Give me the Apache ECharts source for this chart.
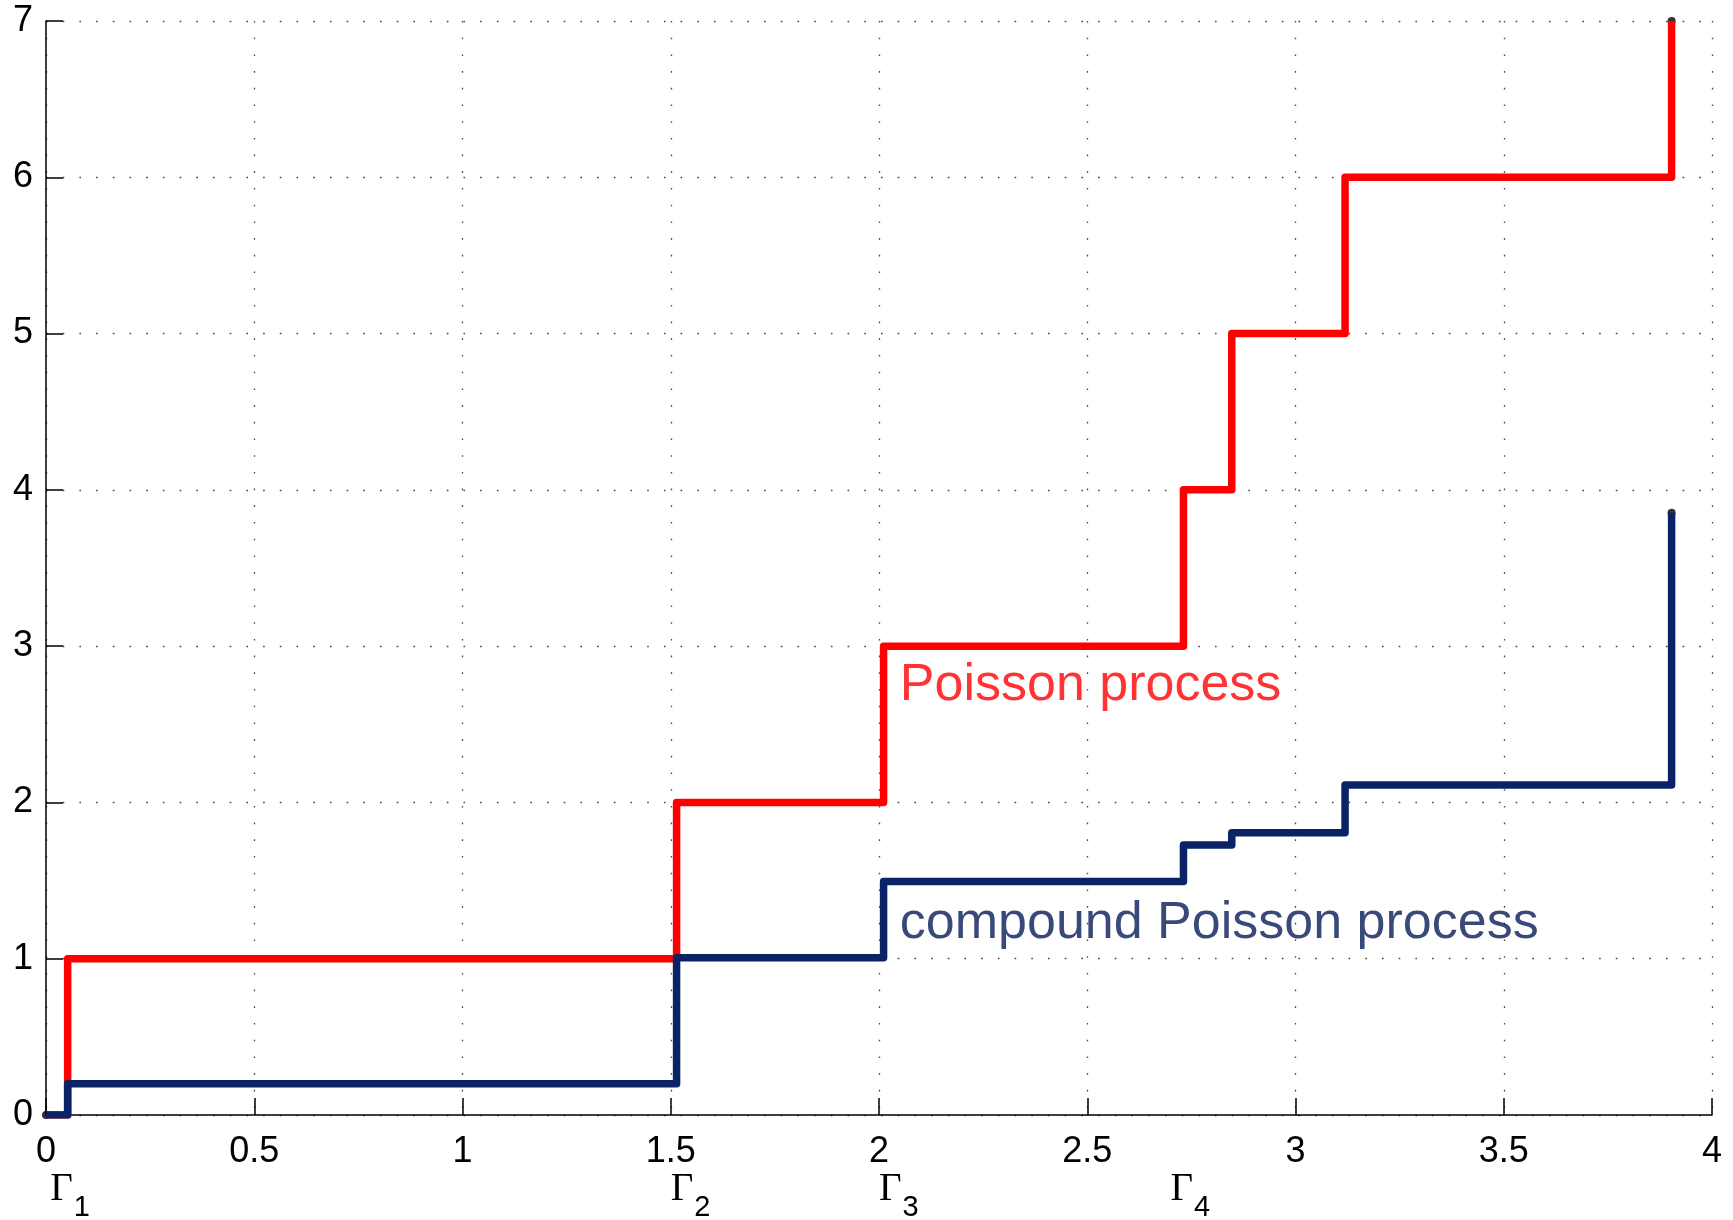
<!DOCTYPE html>
<html>
<head>
<meta charset="utf-8">
<script src="https://cdn.jsdelivr.net/npm/echarts@6/dist/echarts.min.js"></script>
<style>
  html, body { margin: 0; padding: 0; background: #ffffff; }
  #chart { width: 1733px; height: 1220px; }
</style>
</head>
<body>
<div id="chart"></div>
<script>
// Jump times of the process and the value reached at each jump
const jumpTimes      = [0, 0.052, 1.514, 2.011, 2.731, 2.847, 3.119, 3.903];
const poissonCounts  = [0, 1, 2, 3, 4, 5, 6, 7];
const compoundValues = [0, 0.2, 1.006, 1.494, 1.727, 1.806, 2.111, 3.853];

// Arrival-time markers written under the time axis
const gammaLabelX  = [0.01, 1.5, 2.0, 2.7];
const gammaIndices = ['1', '2', '3', '4'];

// Curve captions
const captionText = ['Poisson process', 'compound Poisson process'];

const RED = '#ff0000';
const NAVY = '#0a2366';
const NAVY_TEXT = '#071c58';
const SANS = '"Liberation Sans", Arial, Helvetica, sans-serif';
const SERIF = '"Liberation Serif", "Times New Roman", serif';

const poissonData  = jumpTimes.map((t, i) => [t, poissonCounts[i]]);
const compoundData = jumpTimes.map((t, i) => [t, compoundValues[i]]);
const last = jumpTimes.length - 1;
const endDots = [
  [jumpTimes[0], poissonCounts[0]],
  [jumpTimes[last], poissonCounts[last]],
  [jumpTimes[last], compoundValues[last]]
];

const dotted = { type: [1.6, 15.1], color: '#444', width: 1.3 };

const chart = echarts.init(document.getElementById('chart'), null, { renderer: 'canvas' });

chart.setOption({
  backgroundColor: '#ffffff',
  animation: false,
  grid: { left: 46, right: 21, top: 21, bottom: 105, outerBoundsMode: 'none', containLabel: false },
  xAxis: [
    {
      type: 'value',
      min: 0, max: 4, interval: 0.5,
      axisLine: { show: true, onZero: false, lineStyle: { color: '#000', width: 1.5 } },
      axisTick: { show: true, inside: true, length: 17, lineStyle: { color: '#000', width: 1.5 } },
      axisLabel: { color: '#000', fontFamily: SANS, fontSize: 36, margin: 19 },
      splitLine: { show: true, lineStyle: dotted }
    },
    {
      type: 'value',
      min: 0, max: 4,
      position: 'bottom',
      axisLine: { show: false },
      axisTick: { show: false },
      splitLine: { show: false },
      axisLabel: {
        show: true,
        customValues: gammaLabelX,
        margin: 55,
        align: 'left',
        formatter: function (value) {
          let k = 0, best = Infinity;
          gammaLabelX.forEach((g, i) => { const d = Math.abs(g - value); if (d < best) { best = d; k = i; } });
          return '{g|\u0393}{s|' + gammaIndices[k] + '}';
        },
        rich: {
          g: { fontFamily: SERIF, fontSize: 39, color: '#000', verticalAlign: 'top', lineHeight: 40 },
          s: { fontFamily: SANS, fontSize: 29, color: '#000', verticalAlign: 'top', lineHeight: 29, padding: [23, 0, 0, 1] }
        }
      }
    }
  ],
  yAxis: {
    type: 'value',
    min: 0, max: 7, interval: 1,
    axisLine: { show: true, onZero: false, lineStyle: { color: '#000', width: 1.5 } },
    axisTick: { show: true, inside: true, length: 17, lineStyle: { color: '#000', width: 1.5 } },
    axisLabel: { color: '#000', fontFamily: SANS, fontSize: 36, margin: 13 },
    splitLine: { show: true, lineStyle: dotted }
  },
  series: [
    {
      name: 'end points',
      type: 'scatter',
      data: endDots,
      symbol: 'circle',
      symbolSize: 8,
      itemStyle: { color: '#000' },
      z: 1,
      silent: true
    },
    {
      name: captionText[0],
      type: 'line',
      step: 'end',
      data: poissonData,
      showSymbol: false,
      lineStyle: { color: RED, width: 7.5, join: 'round', cap: 'butt' },
      z: 2
    },
    {
      name: captionText[1],
      type: 'line',
      step: 'end',
      data: compoundData,
      showSymbol: false,
      lineStyle: { color: NAVY, width: 7.5, join: 'round', cap: 'butt' },
      z: 3
    },
    {
      name: 'captions',
      type: 'scatter',
      symbolSize: 0,
      silent: true,
      z: 4,
      data: [
        { value: [2.05, 2.745], label: { formatter: captionText[0], color: RED } },
        { value: [2.05, 1.224], label: { formatter: captionText[1], color: NAVY_TEXT } }
      ],
      label: {
        show: true,
        position: 'right',
        distance: 0,
        fontFamily: SANS,
        fontSize: 52
      }
    }
  ]
});
</script>
</body>
</html>
